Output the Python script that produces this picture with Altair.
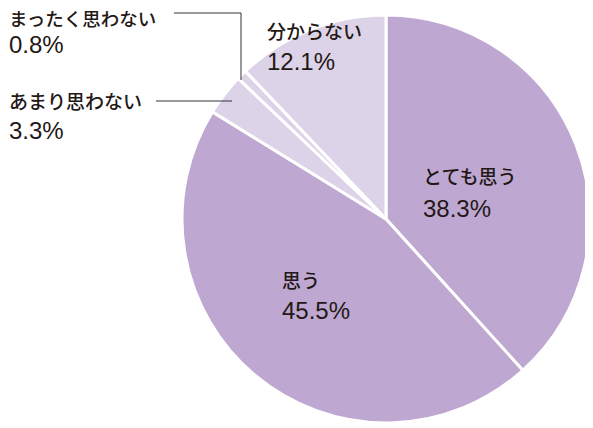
import altair as alt
import pandas as pd

categories = ["とても思う", "思う", "あまり思わない", "まったく思わない", "分からない"]
values = [38.3, 45.5, 3.3, 0.8, 12.1]
shade = ["dark", "dark", "light", "light", "light"]

df = pd.DataFrame({"cat": categories, "val": values, "order": list(range(len(categories))), "shade": shade})

CX, CY, R = 378, 211, 204
FONT = "Noto Sans CJK JP"
NUMFONT = "Liberation Sans"
TXT = "#231815"

pie = alt.Chart(df).mark_arc(radius=R, stroke="white", strokeWidth=3).encode(
    theta=alt.Theta("val:Q", stack=True),
    order=alt.Order("order:Q"),
    color=alt.Color("shade:N", scale=alt.Scale(domain=["dark", "light"], range=["#bea8d2", "#ddd3e9"]), legend=None),
    x=alt.value(CX),
    y=alt.value(CY),
)

def label(text, x, y, font=FONT, size=19, baseline="middle", weight=500):
    return alt.Chart(pd.DataFrame({"t": [text]})).mark_text(
        font=font, fontSize=size, color=TXT, align="left", baseline=baseline, fontWeight=weight
    ).encode(text="t:N", x=alt.value(x), y=alt.value(y))

def pct(i, x, y):
    return label(f"{values[i]:.1f}%", x, y, font=NUMFONT, size=24, weight=400)

layers = [pie]
# inside labels
layers += [label(categories[0], 415, 170), pct(0, 415, 202)]
layers += [label(categories[1], 274, 274), pct(1, 274, 304)]
layers += [label(categories[4], 259, 25), pct(4, 259, 55)]
# outside labels
layers += [label(categories[3], 1, 12, size=18.5), pct(3, 1, 38)]
layers += [label(categories[2], 1, 95), pct(2, 1, 124)]

def rule(x1, y1, x2, y2):
    return alt.Chart(pd.DataFrame({"a": [0]})).mark_rule(color="#333333", strokeWidth=1).encode(
        x=alt.value(x1), y=alt.value(y1), x2=alt.value(x2), y2=alt.value(y2)
    )

layers += [rule(166, 5, 233, 5), rule(233, 5, 233, 72), rule(148, 93, 224, 93)]

chart = alt.layer(*layers).properties(
    width=577, height=418, autosize=alt.AutoSizeParams(type="none"), padding=0
).configure_view(stroke=None)

chart.save("out.html", embed_options={"renderer": "svg", "actions": False})
